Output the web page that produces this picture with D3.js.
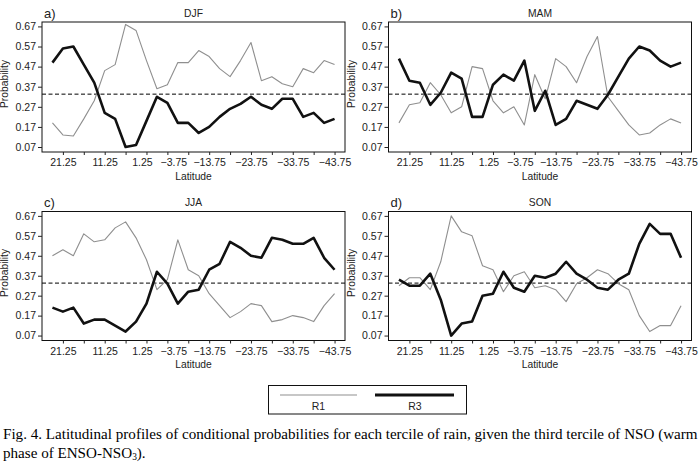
<!DOCTYPE html>
<html>
<head>
<meta charset="utf-8">
<script src="https://cdn.jsdelivr.net/npm/d3@7"></script>
<style>
    body { margin: 0; background: #fff; }
    svg text { font-family: "Liberation Sans", Arial, Helvetica, sans-serif; fill: #222; }
    svg text.caption { font-family: "Liberation Serif", "Times New Roman", serif; fill: #000; }
    .axis .domain { display: none; }
    .axis line { stroke: #222; }
</style>
</head>
<body>
<svg id="chart" width="699" height="463"></svg>
<script>
// CATEGORIES (latitude bands, north to south)
const latitudes = [23.75, 21.25, 18.75, 16.25, 13.75, 11.25, 8.75, 6.25, 3.75, 1.25, -1.25, -3.75, -6.25, -8.75,
    -11.25, -13.75, -16.25, -18.75, -21.25, -23.75, -26.25, -28.75, -31.25, -33.75, -36.25, -38.75, -41.25, -43.75];
const tickLats = [21.25, 16.25, 11.25, 6.25, 1.25, -3.75, -8.75, -13.75, -18.75, -23.75, -28.75, -33.75, -38.75, -43.75];
const labelLats = [21.25, 11.25, 1.25, -3.75, -13.75, -23.75, -33.75, -43.75];
const probTicks = [0.07, 0.17, 0.27, 0.37, 0.47, 0.57, 0.67];
const chance = 0.333;

// SERIES (R1 = first tercile, R3 = third tercile)
const djfR1 = [0.19, 0.13, 0.125, 0.21, 0.30, 0.45, 0.48, 0.68, 0.65, 0.50, 0.36, 0.38, 0.49, 0.49,
    0.55, 0.52, 0.46, 0.42, 0.50, 0.59, 0.40, 0.42, 0.385, 0.37, 0.46, 0.44, 0.50, 0.48];
const djfR3 = [0.49, 0.56, 0.57, 0.48, 0.39, 0.24, 0.21, 0.07, 0.08, 0.20, 0.32, 0.29, 0.19, 0.19,
    0.14, 0.17, 0.22, 0.26, 0.285, 0.32, 0.28, 0.26, 0.31, 0.31, 0.22, 0.24, 0.19, 0.21];
const mamR1 = [0.19, 0.28, 0.29, 0.39, 0.33, 0.24, 0.27, 0.47, 0.46, 0.30, 0.24, 0.27, 0.18, 0.43,
    0.31, 0.51, 0.47, 0.39, 0.52, 0.62, 0.32, 0.25, 0.18, 0.13, 0.14, 0.18, 0.21, 0.19];
const mamR3 = [0.51, 0.40, 0.39, 0.28, 0.34, 0.44, 0.41, 0.22, 0.22, 0.38, 0.43, 0.40, 0.50, 0.25,
    0.35, 0.18, 0.21, 0.30, 0.28, 0.26, 0.33, 0.42, 0.51, 0.57, 0.55, 0.50, 0.47, 0.49];
const jjaR1 = [0.47, 0.50, 0.47, 0.58, 0.54, 0.55, 0.61, 0.64, 0.56, 0.45, 0.30, 0.35, 0.55, 0.40,
    0.37, 0.28, 0.22, 0.16, 0.19, 0.23, 0.22, 0.14, 0.15, 0.17, 0.16, 0.14, 0.22, 0.28];
const jjaR3 = [0.21, 0.19, 0.21, 0.13, 0.15, 0.15, 0.12, 0.09, 0.14, 0.23, 0.39, 0.33, 0.23, 0.29,
    0.30, 0.40, 0.43, 0.54, 0.51, 0.47, 0.46, 0.56, 0.55, 0.53, 0.53, 0.56, 0.46, 0.40];
const sonR1 = [0.32, 0.36, 0.36, 0.30, 0.44, 0.67, 0.59, 0.57, 0.42, 0.40, 0.29, 0.37, 0.39, 0.31,
    0.32, 0.30, 0.24, 0.33, 0.36, 0.40, 0.38, 0.33, 0.30, 0.17, 0.09, 0.12, 0.12, 0.22];
const sonR3 = [0.35, 0.32, 0.32, 0.38, 0.25, 0.07, 0.13, 0.14, 0.27, 0.28, 0.39, 0.31, 0.29, 0.37,
    0.36, 0.38, 0.44, 0.38, 0.35, 0.31, 0.30, 0.35, 0.38, 0.53, 0.63, 0.58, 0.58, 0.46];

const panels = [
    { tag: 'a)', season: 'DJF', r1: djfR1, r3: djfR3, col: 0, row: 0 },
    { tag: 'b)', season: 'MAM', r1: mamR1, r3: mamR3, col: 1, row: 0 },
    { tag: 'c)', season: 'JJA', r1: jjaR1, r3: jjaR3, col: 0, row: 1 },
    { tag: 'd)', season: 'SON', r1: sonR1, r3: sonR3, col: 1, row: 1 }
];

// LAYOUT
const COLS = [42, 388.5];
const ROWS = [{ top: 22, h: 130 }, { top: 211.5, h: 129 }];
const PW = 303;
const R1_COLOR = '#8f8f8f';

const svg = d3.select('#chart');

const fmtLat = d => (d < 0 ? '\u2212' + (-d).toFixed(2) : d.toFixed(2));
const labelNudge = { '1.25': -4.5, '-3.75': 6 };

panels.forEach(p => {
    const left = COLS[p.col];
    const top = ROWS[p.row].top;
    const h = ROWS[p.row].h;

    const g = svg.append('g').attr('transform', `translate(${left},${top})`);

    // SCALES
    const x = d3.scalePoint().domain(latitudes).range([0, PW]).padding(1);
    const y = d3.scaleLinear().domain([0.0452, 0.692]).range([h, 0]);

    // REFERENCE LINE
    g.append('line')
        .attr('x1', 0).attr('x2', PW)
        .attr('y1', y(chance)).attr('y2', y(chance))
        .attr('stroke', '#000').attr('stroke-width', 1)
        .attr('stroke-dasharray', '4,2.5');

    // LINES
    const line = d3.line()
        .x((d, i) => x(latitudes[i]))
        .y(d => y(d));

    g.append('path').datum(p.r1)
        .attr('fill', 'none').attr('stroke', R1_COLOR).attr('stroke-width', 1.1)
        .attr('stroke-linejoin', 'round')
        .attr('d', line);

    g.append('path').datum(p.r3)
        .attr('fill', 'none').attr('stroke', '#111').attr('stroke-width', 2.6)
        .attr('stroke-linejoin', 'round')
        .attr('d', line);

    // FRAME
    g.append('rect')
        .attr('x', 0).attr('y', 0).attr('width', PW).attr('height', h)
        .attr('fill', 'none').attr('stroke', '#111').attr('stroke-width', 1);

    // X AXIS
    const xAxis = g.append('g')
        .attr('class', 'axis')
        .attr('transform', `translate(0,${h})`)
        .call(d3.axisBottom(x).tickValues(tickLats).tickSize(3).tickPadding(4)
            .tickFormat(d => labelLats.includes(d) ? fmtLat(d) : ''));
    xAxis.selectAll('text')
        .style('font-size', '10.5px')
        .attr('dx', d => labelNudge[String(d)] || 0);

    // Y AXIS
    const yAxis = g.append('g')
        .attr('class', 'axis')
        .call(d3.axisLeft(y).tickValues(probTicks).tickSize(4).tickPadding(2)
            .tickFormat(d3.format('.2f')));
    yAxis.selectAll('text').style('font-size', '10.5px');

    // LABELS
    g.append('text')
        .attr('x', PW / 2).attr('y', h + 27.5)
        .attr('text-anchor', 'middle')
        .style('font-size', '10.3px')
        .text('Latitude');

    g.append('text')
        .attr('transform', `translate(${-34},${h / 2 - 3}) rotate(-90)`)
        .attr('text-anchor', 'middle')
        .style('font-size', '10.3px')
        .text('Probability');

    g.append('text')
        .attr('x', 2).attr('y', -4.5)
        .style('font-size', '13px')
        .text(p.tag);

    g.append('text')
        .attr('x', PW / 2).attr('y', -5.5)
        .attr('text-anchor', 'middle')
        .style('font-size', '10.3px')
        .text(p.season);
});

// LEGEND
const legend = svg.append('g');
legend.append('rect')
    .attr('x', 268.5).attr('y', 385.5).attr('width', 198).attr('height', 28.5)
    .attr('fill', 'none').attr('stroke', '#111').attr('stroke-width', 1);
legend.append('line')
    .attr('x1', 280).attr('x2', 357).attr('y1', 395).attr('y2', 395)
    .attr('stroke', R1_COLOR).attr('stroke-width', 1.1);
legend.append('line')
    .attr('x1', 375).attr('x2', 454).attr('y1', 395).attr('y2', 395)
    .attr('stroke', '#111').attr('stroke-width', 3);
legend.append('text')
    .attr('x', 318.5).attr('y', 409.5).attr('text-anchor', 'middle')
    .style('font-size', '10.5px').text('R1');
legend.append('text')
    .attr('x', 415).attr('y', 409.5).attr('text-anchor', 'middle')
    .style('font-size', '10.5px').text('R3');

// CAPTION
const cap1 = svg.append('text')
    .attr('class', 'caption')
    .attr('x', 3).attr('y', 438.5)
    .style('font-size', '14px')
    .text('Fig. 4. Latitudinal profiles of conditional probabilities for each tercile of rain, given the third tercile of NSO (warm');
const capLen = cap1.node().getComputedTextLength();
const capSize = 14 * 695 / capLen;
cap1.style('font-size', capSize + 'px');

const cap2 = svg.append('text')
    .attr('class', 'caption')
    .attr('x', 3).attr('y', 457.5)
    .style('font-size', capSize + 'px');
cap2.append('tspan').text('phase of ENSO-NSO');
cap2.append('tspan').attr('dy', 2.5).style('font-size', (capSize * 0.62) + 'px').text('3');
cap2.append('tspan').attr('dy', -2.5).text(').');
</script>
</body>
</html>
